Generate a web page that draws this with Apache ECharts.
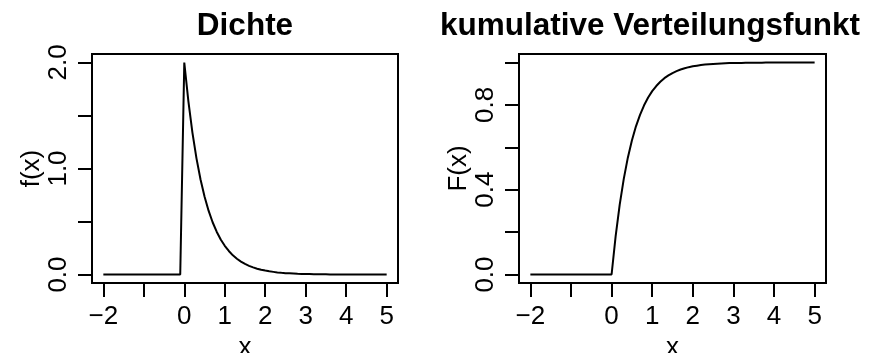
<!DOCTYPE html>
<html><head><meta charset="utf-8">
<script src="https://cdn.jsdelivr.net/npm/echarts@6/dist/echarts.min.js"></script>
<style>html,body{margin:0;padding:0;background:#fff}#c{width:881px;height:353px}</style>
</head><body><div id="c"></div>
<script>
const xs = [-2.0,-1.9,-1.8,-1.7,-1.6,-1.5,-1.4,-1.3,-1.2,-1.1,-1.0,-0.9,-0.8,-0.7,-0.6,-0.5,-0.4,-0.3,-0.2,-0.1,
  0.0,0.1,0.2,0.3,0.4,0.5,0.6,0.7,0.8,0.9,1.0,1.1,1.2,1.3,1.4,1.5,1.6,1.7,1.8,1.9,
  2.0,2.1,2.2,2.3,2.4,2.5,2.6,2.7,2.8,2.9,3.0,3.1,3.2,3.3,3.4,3.5,3.6,3.7,3.8,3.9,
  4.0,4.1,4.2,4.3,4.4,4.5,4.6,4.7,4.8,4.9,5.0];
const density = [0,0,0,0,0,0,0,0,0,0,0,0,0,0,0,0,0,0,0,0,
  2.000,1.637,1.341,1.098,0.899,0.736,0.602,0.493,0.404,0.331,
  0.271,0.222,0.181,0.149,0.122,0.100,0.082,0.067,0.055,0.045,
  0.037,0.030,0.025,0.020,0.016,0.013,0.011,0.009,0.007,0.006,
  0.005,0.004,0.003,0.003,0.002,0.002,0.001,0.001,0.001,0.001,
  0.001,0.001,0,0,0,0,0,0,0,0,0];
const cdf = [0,0,0,0,0,0,0,0,0,0,0,0,0,0,0,0,0,0,0,0,
  0.000,0.181,0.330,0.451,0.551,0.632,0.699,0.753,0.798,0.835,
  0.865,0.889,0.909,0.926,0.939,0.950,0.959,0.967,0.973,0.978,
  0.982,0.985,0.988,0.990,0.992,0.993,0.994,0.995,0.996,0.997,
  0.998,0.998,0.998,0.999,0.999,0.999,0.999,0.999,1.000,1.000,
  1.000,1.000,1.000,1.000,1.000,1.000,1.000,1.000,1.000,1.000,1.000];
const xTicks = [-2,-1,0,1,2,3,4,5];
const xLabels = [-2,0,1,2,3,4,5];
const y1Ticks = [0,0.5,1,1.5,2];
const y1Labels = [0,1,2];
const y2Ticks = [0,0.2,0.4,0.6,0.8,1.0];
const y2Labels = [0,0.4,0.8];
const titles = ['Dichte','kumulative Verteilungsfunkt'];
const yNames = ['f(x)','F(x)'];
const xName = 'x';

const FONT = '"Liberation Sans", Arial, Helvetica, sans-serif';
const FS = 26;
const chart = echarts.init(document.getElementById('c'), null, {renderer:'canvas'});
const fmtX = v => (v < 0 ? '\u2212' + Math.abs(v) : String(v));
function xAxis(i){
  return {type:'value', gridIndex:i, min:-2.28, max:5.28,
    axisLine:{show:false, onZero:false}, splitLine:{show:false},
    axisTick:{show:true, customValues:xTicks, length:14, lineStyle:{color:'#000', width:2}},
    axisLabel:{customValues:xLabels, formatter:fmtX, color:'#000', fontSize:FS, fontFamily:FONT, margin:21},
    name:xName, nameLocation:'middle', nameGap:50,
    nameTextStyle:{color:'#000', fontSize:FS, fontFamily:FONT}};
}
function yAxis(i, min, max, ticks, labels){
  return {type:'value', gridIndex:i, min:min, max:max,
    axisLine:{show:false, onZero:false}, splitLine:{show:false},
    axisTick:{show:true, customValues:ticks, length:14, lineStyle:{color:'#000', width:2}},
    axisLabel:{customValues:labels, formatter:v=>v.toFixed(1), rotate:90, color:'#000', fontSize:FS, fontFamily:FONT, margin:20},
    name:yNames[i], nameLocation:'middle', nameGap:47, nameRotate:90,
    nameTextStyle:{color:'#000', fontSize:FS, fontFamily:FONT}};
}
const option = {
  animation:false,
  backgroundColor:'#fff',
  grid:[
    {left:92, top:54, width:306, height:229, show:true, borderColor:'#000', borderWidth:2, backgroundColor:'transparent', outerBoundsMode:'none', containLabel:false},
    {left:519, top:54, width:307, height:229, show:true, borderColor:'#000', borderWidth:2, backgroundColor:'transparent', outerBoundsMode:'none', containLabel:false}
  ],
  xAxis:[xAxis(0), xAxis(1)],
  yAxis:[yAxis(0,-0.08,2.08,y1Ticks,y1Labels), yAxis(1,-0.04,1.04,y2Ticks,y2Labels)],
  graphic:[
    {type:'text', x:245, y:26, style:{text:titles[0], font:'bold 31.5px '+FONT, fill:'#000', align:'center', verticalAlign:'middle'}},
    {type:'text', x:440, y:26, style:{text:titles[1], font:'bold 31.5px '+FONT, fill:'#000', align:'left', verticalAlign:'middle'}}
  ],
  series:[
    {type:'line', xAxisIndex:0, yAxisIndex:0, data:xs.map((x,i)=>[x,density[i]]), showSymbol:false, lineStyle:{color:'#000', width:2}, clip:false},
    {type:'line', xAxisIndex:1, yAxisIndex:1, data:xs.map((x,i)=>[x,cdf[i]]), showSymbol:false, lineStyle:{color:'#000', width:2}, clip:false}
  ]
};
chart.setOption(option);
</script></body></html>
